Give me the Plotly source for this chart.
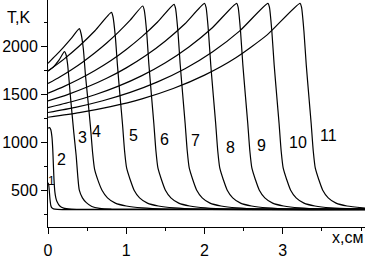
import plotly.graph_objects as go

# ---- data (x in cm, T in K) ----
x1 = [0, 0.008, 0.016, 0.026, 0.036, 0.047, 0.07, 0.12, 4.05]
T1 = [578, 560, 500, 400, 340, 318, 305, 300, 300]

x2 = [0, 0.02, 0.035, 0.05, 0.06, 0.068, 0.076, 0.088, 0.1, 0.113, 0.151, 0.2, 0.3, 0.4, 4.05]
T2 = [1150, 1155, 1135, 1060, 940, 780, 620, 480, 420, 385, 335, 312, 302, 300, 303]

x3 = [0, 0.07, 0.14, 0.21, 0.23, 0.25, 0.29, 0.33, 0.36, 0.38, 0.40, 0.44, 0.49, 0.56, 0.66, 0.81, 4.05]
T3 = [1747, 1790, 1860, 1950, 1920, 1820, 1450, 1100, 860, 650, 500, 420, 370, 330, 310, 302, 297]

x4 = [0, 0.1, 0.2, 0.3, 0.4, 0.419, 0.45, 0.479, 0.513, 0.542, 0.569, 0.595, 0.64, 0.69, 0.76, 0.86,
      1.0, 1.2, 1.5, 4.05]
T4 = [1828, 1910, 1997, 2090, 2190, 2150, 1990, 1700, 1420, 1170, 900, 720, 600, 500, 420, 365,
      335, 315, 303, 300]

x5 = [0, 0.2, 0.4, 0.6, 0.81, 0.829, 0.86, 0.889, 0.923, 0.952, 0.979, 1.005, 1.05, 1.1, 1.17, 1.27,
      1.41, 1.61, 1.91, 4.05]
T5 = [1747, 1869, 2009, 2168, 2360, 2320, 2110, 1790, 1460, 1190, 905, 730, 610, 500, 420, 365,
      335, 315, 303, 296]

x6 = [0, 0.15, 0.3, 0.45, 0.6, 0.75, 0.9, 1.05, 1.21, 1.229, 1.26, 1.289, 1.323, 1.352, 1.379, 1.405,
      1.45, 1.5, 1.57, 1.67, 1.81, 2.01, 2.31, 4.05]
T6 = [1616, 1685, 1761, 1845, 1938, 2040, 2154, 2279, 2427, 2387, 2160, 1815, 1480, 1200, 910, 730,
      610, 500, 420, 365, 335, 315, 303, 304]

x7 = [0, 0.2, 0.4, 0.6, 0.8, 1.0, 1.2, 1.4, 1.61, 1.629, 1.66, 1.689, 1.723, 1.752, 1.779, 1.805,
      1.85, 1.9, 1.97, 2.07, 2.21, 2.41, 2.71, 4.05]
T7 = [1515, 1584, 1663, 1753, 1855, 1973, 2107, 2260, 2445, 2405, 2160, 1815, 1480, 1200, 910, 730,
      610, 500, 420, 365, 335, 315, 303, 297]

x8 = [0, 0.25, 0.5, 0.75, 1.0, 1.25, 1.5, 1.75, 2.0, 2.019, 2.05, 2.079, 2.113, 2.142, 2.169, 2.195,
      2.24, 2.29, 2.36, 2.46, 2.6, 2.8, 3.1, 4.05]
T8 = [1434, 1500, 1579, 1671, 1780, 1909, 2062, 2242, 2455, 2415, 2160, 1815, 1480, 1200, 910, 730,
      610, 500, 420, 365, 335, 315, 303, 302]

x9 = [0, 0.3, 0.6, 0.9, 1.2, 1.5, 1.8, 2.1, 2.41, 2.429, 2.46, 2.489, 2.523, 2.552, 2.579, 2.605,
      2.65, 2.7, 2.77, 2.87, 3.01, 3.21, 3.51, 4.05]
T9 = [1364, 1425, 1499, 1589, 1699, 1834, 1999, 2200, 2455, 2415, 2160, 1815, 1480, 1200, 910, 730,
      610, 500, 420, 365, 335, 315, 303, 298]

x10 = [0, 0.35, 0.7, 1.05, 1.4, 1.75, 2.1, 2.45, 2.81, 2.829, 2.86, 2.889, 2.923, 2.952, 2.979, 3.005,
       3.05, 3.1, 3.17, 3.27, 3.41, 3.61, 3.91, 4.05]
T10 = [1313, 1367, 1436, 1523, 1633, 1771, 1946, 2167, 2455, 2415, 2160, 1815, 1480, 1200, 910, 730,
       610, 500, 420, 365, 335, 315, 303, 301]

x11 = [0, 0.4, 0.8, 1.2, 1.6, 2.0, 2.4, 2.8, 3.22, 3.239, 3.27, 3.299, 3.333, 3.362, 3.389, 3.415,
       3.46, 3.51, 3.58, 3.68, 3.82, 4.02, 4.05]
T11 = [1263, 1311, 1374, 1456, 1564, 1704, 1886, 2125, 2455, 2415, 2160, 1815, 1480, 1200, 910, 730,
       610, 500, 420, 365, 335, 315, 313]

curve_x = [x1, x2, x3, x4, x5, x6, x7, x8, x9, x10, x11]
curve_T = [T1, T2, T3, T4, T5, T6, T7, T8, T9, T10, T11]
curve_names = ["1", "2", "3", "4", "5", "6", "7", "8", "9", "10", "11"]

x_ticks = [0, 1, 2, 3]
y_ticks = [500, 1000, 1500, 2000]

FONT = "Arial, Liberation Sans, sans-serif"

fig = go.Figure()
for xs, ts, nm in zip(curve_x, curve_T, curve_names):
    fig.add_trace(go.Scatter(x=xs, y=ts, mode="lines", name=nm,
                             line=dict(color="black", width=1.2, shape="spline", smoothing=0.6),
                             showlegend=False, hoverinfo="skip"))

# curve number labels (position in data coords)
label_pos = [(0.047, 594, 12), (0.172, 818, 16), (0.435, 1048, 16), (0.624, 1111, 16),
             (1.087, 1070, 16), (1.486, 1035, 16), (1.881, 1019, 16), (2.327, 952, 16),
             (2.726, 969, 16), (3.188, 1002, 16), (3.578, 1070, 16)]
for nm, (lx, ly, fs) in zip(curve_names, label_pos):
    fig.add_annotation(x=lx, y=ly, xref="x", yref="y", text=nm, showarrow=False,
                       font=dict(family=FONT, size=fs, color="black"),
                       xanchor="center", yanchor="middle")

fig.add_annotation(x=-0.0937, y=0.921, xref="paper", yref="paper", text="T,K", showarrow=False,
                   font=dict(family=FONT, size=16, color="black"), xanchor="center", yanchor="middle")
fig.add_annotation(x=1.0, y=-0.0936, xref="paper", yref="paper", text="x,см", showarrow=False,
                   font=dict(family=FONT, size=16, color="black"), xanchor="right", yanchor="bottom")

fig.update_layout(
    width=365, height=259,
    margin=dict(l=48, r=0, t=0, b=24),
    paper_bgcolor="white", plot_bgcolor="white",
    font=dict(family=FONT, size=16, color="black"),
    xaxis=dict(range=[0, 4.05], tickvals=x_ticks, ticktext=[str(v) for v in x_ticks],
               ticks="outside", ticklen=6, tickwidth=1, tickcolor="black", ticklabelstandoff=3,
               minor=dict(dtick=0.5, tick0=0, ticks="outside", ticklen=3, tickcolor="black", showgrid=False),
               showline=True, linecolor="black", linewidth=1, showgrid=False, zeroline=False,
               tickfont=dict(family=FONT, size=16, color="black")),
    yaxis=dict(range=[115, 2490], tickvals=y_ticks, ticktext=[str(v) for v in y_ticks],
               ticks="outside", ticklen=6, tickwidth=1, tickcolor="black",
               minor=dict(dtick=250, tick0=0, ticks="outside", ticklen=3, tickcolor="black", showgrid=False),
               showline=True, linecolor="black", linewidth=1, showgrid=False, zeroline=False,
               tickfont=dict(family=FONT, size=16, color="black")),
)

fig.write_html("out.html", config={"displayModeBar": False},
               post_script="document.body.style.margin='0';document.body.style.overflow='hidden';")
